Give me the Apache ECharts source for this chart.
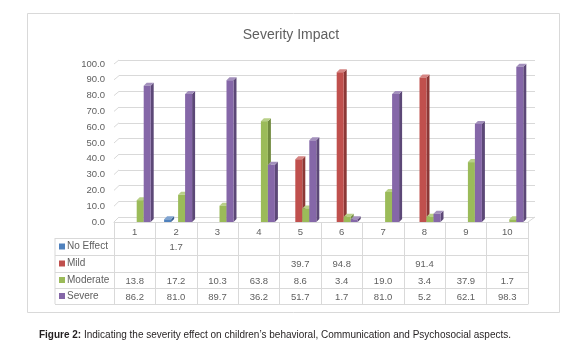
<!DOCTYPE html>
<html>
<head>
<meta charset="utf-8">
<style>
  html, body { margin: 0; padding: 0; background: #fff; }
  #chart { width: 582px; height: 357px; }
</style>
<script src="https://cdn.jsdelivr.net/npm/echarts@6/dist/echarts.min.js"></script>
</head>
<body>
<div id="chart"></div>
<script>
// data
var categories = ['1', '2', '3', '4', '5', '6', '7', '8', '9', '10'];
var seriesNames = ['No Effect', 'Mild', 'Moderate', 'Severe'];
var noEffect = [null, 1.7, null, null, null, null, null, null, null, null];
var mild = [null, null, null, null, 39.7, 94.8, null, 91.4, null, null];
var moderate = [13.8, 17.2, 10.3, 63.8, 8.6, 3.4, 19.0, 3.4, 37.9, 1.7];
var severe = [86.2, 81.0, 89.7, 36.2, 51.7, 1.7, 81.0, 5.2, 62.1, 98.3];
var yMin = 0, yMax = 100, yStep = 10;

var allSeries = [noEffect, mild, moderate, severe];
// front, side, top
var colors = [
    ['#4F81BD', '#395F8E', '#7FA3D0'],
    ['#C0504D', '#8C3836', '#D58583'],
    ['#9BBB59', '#718B3F', '#B9D088'],
    ['#8567A8', '#5C4877', '#A390BC']
];
var textColor = '#606060';
var lineColor = '#d9d9d9';
var font = 'Liberation Sans';

// table geometry (rows under the plot)
var rowOffsets = [16, 33, 50, 66, 82];
var barW = 7, depthX = 3, depthY = 3, barShift = 2;

function fmt(v) {
    return v == null ? '' : v.toFixed(1);
}

function render3dBar(params, api) {
    var i = params.seriesIndex;
    var top = api.coord([api.value(0), api.value(1)]);
    var base = api.coord([api.value(0), 0]);
    var x = top[0] - 2 * barW + i * barW + barShift;
    var y1 = top[1], y0 = base[1];
    var c = colors[i];
    return {
        type: 'group',
        children: [
            { type: 'polygon', shape: { points: [[x + barW, y0], [x + barW + depthX, y0 - depthY], [x + barW + depthX, y1 - depthY], [x + barW, y1]] }, style: { fill: c[1] } },
            { type: 'polygon', shape: { points: [[x, y1], [x + depthX, y1 - depthY], [x + barW + depthX, y1 - depthY], [x + barW, y1]] }, style: { fill: c[2] } },
            { type: 'rect', shape: { x: x, y: y1, width: barW, height: y0 - y1 }, style: { fill: c[0] } }
        ]
    };
}

var series = allSeries.map(function (arr, i) {
    var d = [];
    arr.forEach(function (v, k) { if (v != null) d.push([k, v]); });
    return {
        name: seriesNames[i],
        type: 'custom',
        xAxisIndex: 0,
        yAxisIndex: 0,
        renderItem: render3dBar,
        encode: { x: 0, y: 1 },
        data: d,
        z: 5
    };
});

var labelStyle = { color: textColor, fontFamily: font, fontSize: 9.5 };

var xAxes = [{
    type: 'category', gridIndex: 0, position: 'bottom', data: categories,
    axisLine: { show: true, lineStyle: { color: lineColor } },
    axisTick: { show: true, length: rowOffsets[4], lineStyle: { color: lineColor } },
    axisLabel: Object.assign({ margin: 5 }, labelStyle)
}];
allSeries.forEach(function (arr, i) {
    xAxes.push({
        type: 'category', gridIndex: 0, position: 'bottom', offset: rowOffsets[i],
        data: arr.map(fmt),
        axisLine: { show: true, lineStyle: { color: lineColor } },
        axisTick: { show: false },
        axisLabel: Object.assign({ margin: 4, interval: 0 }, labelStyle)
    });
});
xAxes.push({
    type: 'category', gridIndex: 0, position: 'bottom', offset: rowOffsets[4], data: categories,
    axisLine: { show: true, lineStyle: { color: lineColor } },
    axisTick: { show: false }, axisLabel: { show: false }
});
xAxes.push({
    type: 'category', gridIndex: 1, data: categories, show: false
});

var myChart = echarts.init(document.getElementById('chart'));
var option = {
    animation: false,
    backgroundColor: '#fff',
    title: {
        text: 'Severity Impact',
        left: 'center',
        top: 23,
        textStyle: { color: textColor, fontFamily: font, fontSize: 14, fontWeight: 'normal' }
    },
    grid: [
        { left: 114, right: 54, top: 64, bottom: 135 },
        { left: 119, right: 47, top: 60, bottom: 140 }
    ],
    xAxis: xAxes,
    yAxis: [{
        type: 'value', gridIndex: 0, min: yMin, max: yMax, interval: yStep,
        axisLine: { show: false }, axisTick: { show: false }, splitLine: { show: false },
        axisLabel: Object.assign({ margin: 9, formatter: function (v) { return v.toFixed(1); } }, labelStyle)
    }, {
        type: 'value', gridIndex: 1, min: yMin, max: yMax, interval: yStep,
        axisLine: { show: false }, axisTick: { show: false }, axisLabel: { show: false },
        splitLine: { show: true, lineStyle: { color: lineColor } }
    }],
    series: series
};
myChart.setOption(option);

// frame, left table column, 3d wall edges, caption
var g = [];
g.push({ type: 'rect', shape: { x: 27.5, y: 13.5, width: 532, height: 299 }, style: { fill: null, stroke: lineColor }, z: 0 });

var tableLeft = 55, gridLeft = 114, axisY = 222;
g.push({ type: 'line', shape: { x1: tableLeft, y1: axisY + rowOffsets[0], x2: tableLeft, y2: axisY + rowOffsets[4] }, style: { stroke: lineColor } });
rowOffsets.forEach(function (o) {
    g.push({ type: 'line', shape: { x1: tableLeft, y1: axisY + o + 0.5, x2: gridLeft, y2: axisY + o + 0.5 }, style: { stroke: lineColor } });
});
seriesNames.forEach(function (name, i) {
    var yc = axisY + (rowOffsets[i] + rowOffsets[i + 1]) / 2;
    g.push({ type: 'rect', shape: { x: 59, y: yc - 3, width: 6, height: 6 }, style: { fill: colors[i][0] } });
    g.push({ type: 'text', x: 67, y: yc, style: { text: name, fill: textColor, font: '10px ' + font, textVerticalAlign: 'middle' } });
});

for (var v = yMin; v <= yMax; v += yStep) {
    var yf = myChart.convertToPixel({ yAxisIndex: 0 }, v);
    var yb = myChart.convertToPixel({ yAxisIndex: 1 }, v);
    g.push({ type: 'line', shape: { x1: 114, y1: yf, x2: 119, y2: yb }, style: { stroke: lineColor } });
}
g.push({ type: 'line', shape: { x1: 528, y1: myChart.convertToPixel({ yAxisIndex: 0 }, 0), x2: 535, y2: myChart.convertToPixel({ yAxisIndex: 1 }, 0) }, style: { stroke: lineColor } });

g.push({
    type: 'text', x: 275, y: 335,
    style: {
        text: '{b|Figure 2:} Indicating the severity effect on children\u2019s behavioral, Communication and Psychosocial aspects.',
        align: 'center', verticalAlign: 'middle',
        fill: '#231f20', font: '10px ' + font,
        rich: { b: { fontWeight: 'bold', fontFamily: font, fontSize: 10, fill: '#231f20' } }
    }
});

myChart.setOption({ graphic: g });

window.addEventListener('resize', function () { myChart.resize(); });
</script>
</body>
</html>
